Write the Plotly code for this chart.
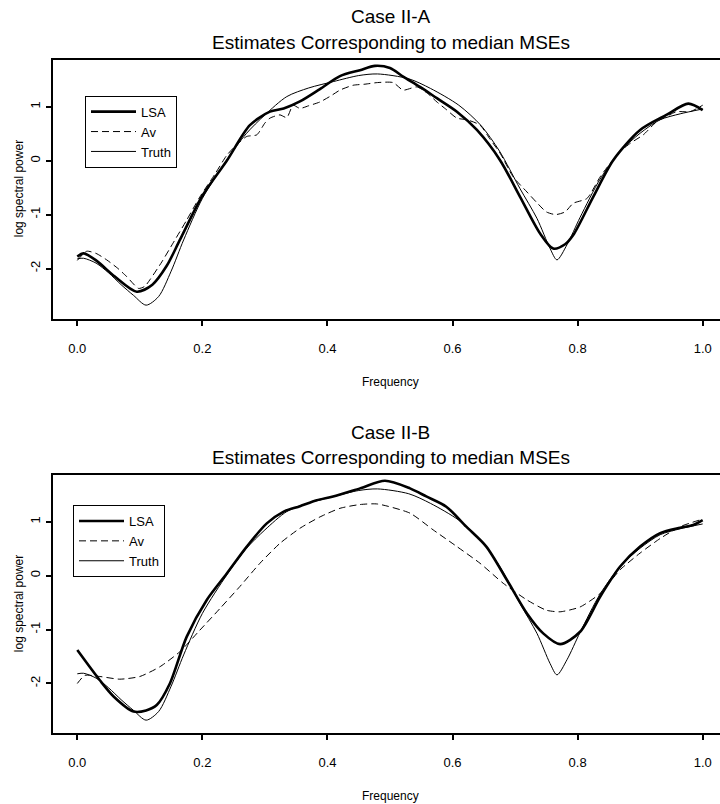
import plotly.graph_objects as go

# ---------------- data ----------------
tick_x = [0.0, 0.2, 0.4, 0.6, 0.8, 1.0]
tick_x_text = ["0.0", "0.2", "0.4", "0.6", "0.8", "1.0"]
tick_y = [-2, -1, 0, 1]
tick_y_text = ["-2", "-1", "0", "1"]

truth_x = [0.0, 0.01, 0.03, 0.05, 0.07, 0.09, 0.11, 0.13, 0.15, 0.17, 0.2, 0.24, 0.27, 0.3,
           0.335, 0.37, 0.41, 0.45, 0.48, 0.53, 0.565, 0.61, 0.645, 0.675, 0.708, 0.735,
           0.756, 0.767, 0.783, 0.804, 0.836, 0.868, 0.9, 0.932, 0.964, 1.0]
truth_y = [-1.82, -1.81, -1.90, -2.08, -2.30, -2.50, -2.68, -2.52, -2.05, -1.47, -0.70, 0.03, 0.50, 0.85,
           1.19, 1.35, 1.47, 1.58, 1.61, 1.52, 1.34, 1.03, 0.66, 0.18, -0.52, -1.07,
           -1.63, -1.84, -1.56, -1.05, -0.34, 0.17, 0.51, 0.76, 0.87, 0.96]

lsa_a_x = [0.0, 0.01, 0.03, 0.06, 0.095, 0.12, 0.143, 0.164, 0.2, 0.239, 0.276, 0.308, 0.33, 0.356,
           0.388, 0.42, 0.452, 0.476, 0.5, 0.521, 0.548, 0.575, 0.607, 0.639, 0.676, 0.708, 0.74,
           0.761, 0.78, 0.793, 0.825, 0.857, 0.9, 0.942, 0.977, 1.0]
lsa_a_y = [-1.78, -1.72, -1.85, -2.15, -2.43, -2.30, -1.95, -1.47, -0.65, 0.0, 0.66, 0.91, 0.97, 1.10,
           1.33, 1.57, 1.68, 1.76, 1.72, 1.56, 1.37, 1.16, 0.91, 0.57, 0.01, -0.67, -1.35,
           -1.63, -1.55, -1.38, -0.67, 0.01, 0.57, 0.85, 1.06, 0.94]

av_a_x = [0.0, 0.015, 0.03, 0.047, 0.065, 0.079, 0.098, 0.108, 0.116, 0.135, 0.153, 0.175, 0.196,
          0.22, 0.239, 0.255, 0.271, 0.287, 0.3, 0.308, 0.324, 0.335, 0.345, 0.356, 0.37, 0.388,
          0.405, 0.42, 0.441, 0.46, 0.48, 0.505, 0.521, 0.543, 0.56, 0.575, 0.59, 0.607, 0.623,
          0.644, 0.66, 0.676, 0.697, 0.719, 0.735, 0.75, 0.765, 0.78, 0.793, 0.815, 0.836, 0.852,
          0.868, 0.885, 0.905, 0.926, 0.942, 0.958, 0.98, 1.0]
av_a_y = [-1.85, -1.68, -1.72, -1.84, -2.00, -2.15, -2.37, -2.33, -2.21, -1.88, -1.53, -1.10, -0.67,
          -0.25, 0.10, 0.30, 0.45, 0.48, 0.70, 0.79, 0.85, 0.80, 1.03, 0.97, 1.02, 1.09,
          1.20, 1.31, 1.40, 1.42, 1.45, 1.45, 1.31, 1.37, 1.25, 1.09, 0.95, 0.79, 0.76,
          0.66, 0.40, 0.14, -0.30, -0.58, -0.78, -0.95, -1.00, -0.95, -0.79, -0.70, -0.30, -0.05,
          0.17, 0.33, 0.48, 0.72, 0.82, 0.91, 0.91, 1.03]

lsa_b_x = [0.0, 0.036, 0.058, 0.09, 0.11, 0.127, 0.148, 0.175, 0.207, 0.239, 0.271, 0.303, 0.33,
           0.356, 0.383, 0.409, 0.452, 0.492, 0.532, 0.558, 0.59, 0.622, 0.654, 0.687, 0.719,
           0.745, 0.772, 0.804, 0.836, 0.868, 0.9, 0.932, 0.964, 0.985, 1.0]
lsa_b_y = [-1.38, -1.94, -2.24, -2.52, -2.50, -2.40, -2.00, -1.13, -0.45, 0.04, 0.54, 0.97, 1.19,
           1.29, 1.40, 1.47, 1.62, 1.76, 1.62, 1.47, 1.28, 0.91, 0.54, -0.08, -0.70,
           -1.07, -1.27, -1.04, -0.39, 0.17, 0.54, 0.79, 0.89, 0.94, 1.03]

av_b_x = [0.0, 0.012, 0.036, 0.068, 0.1, 0.132, 0.164, 0.196, 0.228, 0.26, 0.292, 0.324, 0.356,
          0.388, 0.42, 0.452, 0.48, 0.532, 0.569, 0.607, 0.644, 0.681, 0.719, 0.75, 0.772,
          0.804, 0.836, 0.868, 0.9, 0.932, 0.964, 1.0]
av_b_y = [-2.00, -1.85, -1.87, -1.92, -1.87, -1.69, -1.41, -1.01, -0.61, -0.20, 0.23, 0.60, 0.88,
          1.09, 1.25, 1.32, 1.33, 1.16, 0.85, 0.54, 0.23, -0.14, -0.45, -0.64, -0.67,
          -0.58, -0.33, 0.11, 0.42, 0.69, 0.91, 1.05]

titles = ["Case II-A", "Case II-B"]
subtitle = "Estimates Corresponding to median MSEs"
names = ["LSA", "Av", "Truth"]

# ---------------- figure ----------------
W, H = 720, 804
FONT = "Liberation Sans, Arial, Helvetica, sans-serif"

fig = go.Figure()

panels = [
    dict(xa="x", ya="y", leg="legend", lsa=(lsa_a_x, lsa_a_y), av=(av_a_x, av_a_y)),
    dict(xa="x2", ya="y2", leg="legend2", lsa=(lsa_b_x, lsa_b_y), av=(av_b_x, av_b_y)),
]
for p in panels:
    fig.add_trace(go.Scatter(x=p["lsa"][0], y=p["lsa"][1], name=names[0], mode="lines",
                             line=dict(color="black", width=2.6, shape="spline", smoothing=0.8),
                             xaxis=p["xa"], yaxis=p["ya"], legend=p["leg"]))
    fig.add_trace(go.Scatter(x=p["av"][0], y=p["av"][1], name=names[1], mode="lines",
                             line=dict(color="black", width=1, dash="7px,4px", shape="spline", smoothing=0.6),
                             xaxis=p["xa"], yaxis=p["ya"], legend=p["leg"]))
    fig.add_trace(go.Scatter(x=truth_x, y=truth_y, name=names[2], mode="lines",
                             line=dict(color="black", width=1, shape="spline", smoothing=0.8),
                             xaxis=p["xa"], yaxis=p["ya"], legend=p["leg"]))

# pixel geometry
x_left_px = 53.3
xdom = [x_left_px / W, 1.0]
frames = [(59.5, 319.0), (475.0, 733.3)]
yranges = [[-2.937, 1.878], [-2.924, 1.868]]
xrange_ = [-0.0384, 1.0277]

axis_common = dict(showgrid=False, zeroline=False, showline=True, linecolor="black", linewidth=2,
                   ticks="outside", ticklen=5, tickwidth=1.5, tickcolor="black",
                   tickfont=dict(family=FONT, size=13, color="black"))

layout = dict(width=W, height=H, margin=dict(l=0, r=0, t=0, b=0),
              paper_bgcolor="white", plot_bgcolor="white",
              font=dict(family=FONT, color="black"), annotations=[])

for i, (top, bot) in enumerate(frames):
    sfx = "" if i == 0 else "2"
    ydom = [1 - bot / H, 1 - top / H]
    layout["xaxis" + sfx] = dict(domain=xdom, range=xrange_, anchor="y" + sfx, mirror=True,
                                 tickvals=tick_x, ticktext=tick_x_text, ticklabelstandoff=11,
                                 **axis_common)
    layout["yaxis" + sfx] = dict(domain=ydom, range=yranges[i], anchor="x" + sfx,
                                 tickvals=tick_y, ticktext=tick_y_text, tickangle=-90,
                                 ticklabelstandoff=1, **axis_common)
    cx = (x_left_px + 727.7) / 2 / W
    layout["annotations"] += [
        dict(text=titles[i], x=cx, y=1 - (top - 43) / H, xref="paper", yref="paper",
             showarrow=False, xanchor="center", yanchor="middle",
             font=dict(family=FONT, size=19, color="black")),
        dict(text=subtitle, x=cx, y=1 - (top - 17.5) / H, xref="paper", yref="paper",
             showarrow=False, xanchor="center", yanchor="middle",
             font=dict(family=FONT, size=19, color="black")),
        dict(text="Frequency", x=cx, y=1 - (bot + 63) / H, xref="paper", yref="paper",
             showarrow=False, xanchor="center", yanchor="middle",
             font=dict(family=FONT, size=12, color="black")),
        dict(text="log spectral power", x=19 / W, y=1 - (top + bot) / 2 / H, xref="paper", yref="paper",
             showarrow=False, xanchor="center", yanchor="middle", textangle=-90,
             font=dict(family=FONT, size=12, color="black")),
    ]

leg_common = dict(bgcolor="white", bordercolor="black", borderwidth=1, xanchor="left", yanchor="top",
                  font=dict(family=FONT, size=13, color="black"), tracegroupgap=0, itemwidth=45)
layout["legend"] = dict(x=85 / W, y=1 - 95.7 / H, **leg_common)
layout["legend2"] = dict(x=73 / W, y=1 - 505 / H, **leg_common)
layout["showlegend"] = True

fig.update_layout(**layout)
fig.write_html("out.html")
